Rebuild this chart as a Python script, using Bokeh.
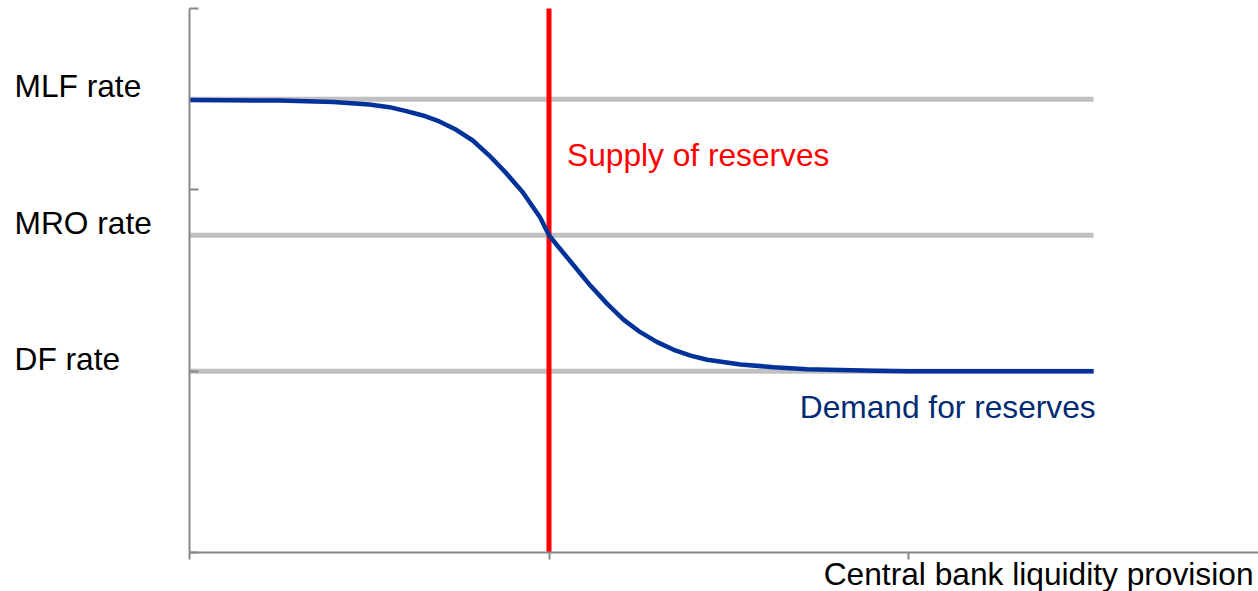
from bokeh.plotting import figure
from bokeh.models import Range1d, FixedTicker, Label
from bokeh.embed import file_html
from bokeh.resources import INLINE

# ---- data ----
rate_names = ["MLF rate", "MRO rate", "DF rate"]
rate_levels = [2.5, 1.75, 1.0]
rate_label_offsets = [13, 12, 12]
level_x_start = 0.0
level_x_end = 2.515
supply_x = 1.0
supply_y = [0.0, 3.0]
demand_x = [0.0, 0.25, 0.40, 0.50, 0.556, 0.603, 0.649, 0.695, 0.742, 0.788, 0.834,
            0.881, 0.927, 0.975, 1.0, 1.023, 1.069, 1.115, 1.162, 1.208, 1.254, 1.301,
            1.347, 1.394, 1.44, 1.533, 1.625, 1.718, 1.904, 2.0, 2.515]
demand_y = [2.495, 2.492, 2.485, 2.47, 2.456, 2.434, 2.41, 2.377, 2.331, 2.272, 2.189,
            2.092, 1.987, 1.849, 1.75, 1.693, 1.583, 1.472, 1.371, 1.283, 1.215, 1.160,
            1.118, 1.086, 1.063, 1.037, 1.022, 1.011, 1.002, 1.0, 1.0]
x_ticks = [0, 1, 2]
y_ticks = [0, 1, 2, 3]
x_title = "Central bank liquidity provision"
supply_label = "Supply of reserves"
demand_label = "Demand for reserves"
supply_label_y = 2.19
demand_label_y = 0.80

FONT = "Liberation Sans"
FS = "31.7px"

# plot area spans the whole canvas; the axes sit at x=0 / y=0 through fixed_location
X0, X1 = -189 / 359.5, (1258 - 189) / 359.5
Y0, Y1 = -(591 - 552) / 181.333, 3 + 8 / 181.333

p = figure(width=1258, height=591, output_backend="svg", toolbar_location=None,
           x_range=Range1d(X0, X1), y_range=Range1d(Y0, Y1),
           min_border=0, min_border_left=0, min_border_right=0,
           min_border_top=0, min_border_bottom=0)
p.outline_line_color = None
p.grid.visible = False
p.background_fill_color = "white"
p.border_fill_color = "white"

for ax in (p.xaxis[0], p.yaxis[0]):
    ax.axis_line_color = "#888888"
    ax.axis_line_width = 2
    ax.major_tick_line_color = "#888888"
    ax.major_tick_line_width = 2
    ax.minor_tick_line_color = None
    ax.major_label_text_font_size = "0px"
    ax.major_label_text_color = None
    ax.fixed_location = 0

p.xaxis[0].ticker = FixedTicker(ticks=x_ticks)
p.xaxis[0].bounds = (0, X1)
p.xaxis[0].major_tick_in = 0
p.xaxis[0].major_tick_out = 7
p.yaxis[0].ticker = FixedTicker(ticks=y_ticks)
p.yaxis[0].bounds = (0, 3)
p.yaxis[0].major_tick_in = 9
p.yaxis[0].major_tick_out = 0

# horizontal policy-rate levels
for lvl in rate_levels:
    p.line([level_x_start, level_x_end], [lvl, lvl], line_color="#C0C0C0", line_width=5)

# supply
p.line([supply_x, supply_x], supply_y, line_color="#FF0000", line_width=5)

# demand
p.line(demand_x, demand_y, line_color="#003299", line_width=4.5, line_join="round")

# rate labels, left of the axis
for name, lvl, off in zip(rate_names, rate_levels, rate_label_offsets):
    p.add_layout(Label(x=14, x_units="screen", y=lvl, y_units="data", y_offset=off,
                       text=name, text_font=FONT, text_font_size=FS, text_color="black",
                       text_align="left", text_baseline="alphabetic"))

p.add_layout(Label(x=supply_x, y=supply_label_y, x_offset=18, text=supply_label,
                   text_font=FONT, text_font_size=FS, text_color="#FF0000",
                   text_align="left", text_baseline="alphabetic"))
p.add_layout(Label(x=level_x_end, y=demand_label_y, x_offset=2, text=demand_label,
                   text_font=FONT, text_font_size=FS, text_color="#002B73",
                   text_align="right", text_baseline="alphabetic"))
p.add_layout(Label(x=1253, x_units="screen", y=18, y_units="screen", text=x_title,
                   text_font=FONT, text_font_size=FS, text_color="black",
                   text_align="right", text_baseline="alphabetic"))

open("out.html", "w").write(file_html(p, INLINE))
